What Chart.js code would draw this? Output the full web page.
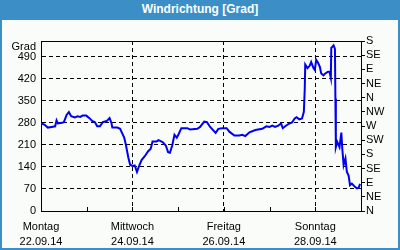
<!DOCTYPE html>
<html>
<head>
<meta charset="utf-8">
<script src="https://cdn.jsdelivr.net/npm/chart.js@4/dist/chart.umd.min.js"></script>
<style>
  body { margin: 0; background: #fff; }
  #frame {
    width: 400px; height: 250px; box-sizing: border-box;
    border: 2px solid #3b8fc6; background: #fafcfa;
  }
  #head {
    height: 18px; line-height: 18px; background: #3b8fc6; color: #fff;
    font: bold 12px "Liberation Sans", Arial, sans-serif; text-align: center;
  }
  canvas { display: block; }
</style>
</head>
<body>
<div id="frame">
  <div id="head">Windrichtung [Grad]</div>
  <canvas id="c" width="396" height="228"></canvas>
</div>
<script>
// time in days since Montag 22.09.14 00:00, wind direction in degrees
const days = [
  0, 0.08, 0.15, 0.23, 0.31, 0.34, 0.37, 0.46, 0.50, 0.56,
  0.61, 0.66, 0.74, 0.80, 0.86, 0.91, 0.99, 1.06, 1.12, 1.18,
  1.23, 1.29, 1.35, 1.44, 1.50, 1.54, 1.56, 1.67, 1.73, 1.78,
  1.82, 1.86, 1.91, 1.95, 2.00, 2.05, 2.10, 2.14, 2.20, 2.27,
  2.34, 2.40, 2.44, 2.53, 2.57, 2.66, 2.73, 2.78, 2.82, 2.87,
  2.92, 2.97, 3.01, 3.07, 3.20, 3.26, 3.42, 3.48, 3.57, 3.63,
  3.70, 3.82, 3.88, 3.96, 4.06, 4.12, 4.23, 4.34, 4.40, 4.47,
  4.56, 4.69, 4.84, 4.93, 5.00, 5.06, 5.12, 5.19, 5.25, 5.29,
  5.35, 5.42, 5.49, 5.55, 5.59, 5.65, 5.71, 5.75, 5.77, 5.78,
  5.83, 5.88, 5.91, 5.96, 5.99, 6.02, 6.06, 6.10, 6.13, 6.18,
  6.22, 6.27, 6.31, 6.34, 6.35, 6.40, 6.43, 6.44, 6.45, 6.48,
  6.53, 6.57, 6.59, 6.62, 6.66, 6.69, 6.73, 6.76, 6.80, 6.86,
  6.91, 6.95, 6.98
]
const degrees = [
  279, 274, 265, 267, 269, 288, 278, 280, 282, 305,
  314, 301, 297, 301, 299, 303, 303, 295, 286, 282,
  269, 269, 282, 286, 295, 280, 265, 265, 261, 246,
  233, 208, 170, 147, 143, 145, 124, 141, 162, 174,
  189, 198, 221, 221, 225, 219, 208, 187, 185, 208,
  242, 233, 244, 263, 263, 259, 261, 267, 284, 282,
  267, 248, 261, 263, 263, 252, 240, 240, 242, 238,
  250, 257, 261, 269, 267, 271, 267, 271, 278, 263,
  270, 277, 281, 294, 298, 291, 294, 315, 389, 465,
  454, 462, 473, 454, 448, 480, 471, 458, 437, 431,
  437, 442, 443, 423, 518, 526, 515, 357, 203, 220,
  203, 249, 199, 146, 167, 125, 112, 82, 87, 78,
  72, 74, 86
]

const labelDays = [0, 2, 4, 6]
const labelNames = ["Montag", "Mittwoch", "Freitag", "Sonntag"]
const labelDates = ["22.09.14", "24.09.14", "26.09.14", "28.09.14"]
const yTicks = [0, 70, 140, 210, 280, 350, 420, 490]
const compass = ["N", "NE", "E", "SE", "S", "SW", "W", "NW", "N", "NE", "E", "SE", "S"]

const font = { family: '"Liberation Sans", Arial, sans-serif', size: 11 }

// top frame line, small inner day ticks and the "Grad" caption
const frame = {
  id: "frame",
  afterDraw(chart) {
    const { ctx, chartArea: a, scales: { x } } = chart
    ctx.save()
    ctx.strokeStyle = "#000"
    ctx.lineWidth = 1
    ctx.beginPath()
    ctx.moveTo(a.left, a.top + 0.5)
    ctx.lineTo(a.right, a.top + 0.5)
    for (let d = 1; d < 7; d++) {
      const px = Math.round(x.getPixelForValue(d)) + 0.5
      ctx.moveTo(px, a.bottom)
      ctx.lineTo(px, a.bottom - 4)
    }
    ctx.stroke()
    ctx.fillStyle = "#000"
    ctx.font = '11px "Liberation Sans", Arial, sans-serif'
    ctx.textAlign = "right"
    ctx.textBaseline = "middle"
    ctx.fillText("Grad", a.left - 5, a.top + 6)
    ctx.restore()
  },
}

new Chart(document.getElementById("c"), {
  type: "line",
  data: {
    datasets: [
      {
        data: days.map((d, i) => ({ x: d, y: degrees[i] })),
        borderColor: "#0000f0",
        borderWidth: 2,
        pointRadius: 0,
        tension: 0,
        yAxisID: "y",
      },
    ],
  },
  options: {
    responsive: false,
    animation: false,
    layout: { padding: { top: 21 } },
    plugins: { legend: { display: false }, tooltip: { enabled: false } },
    scales: {
      x: {
        type: "linear",
        min: 0,
        max: 7,
        afterBuildTicks: (s) => {
          s.ticks = [0, 1, 2, 3, 4, 5, 6, 7].map((v) => ({ value: v }))
        },
        afterFit: (s) => { s.height = 37 },
        ticks: {
          autoSkip: false,
          maxRotation: 0,
          color: "#000",
          padding: 9,
          font: { ...font, lineHeight: 1.35 },
          callback: (v) => {
            const i = labelDays.indexOf(v)
            return i >= 0 ? [labelNames[i], labelDates[i]] : ""
          },
        },
        grid: {
          drawTicks: false,
          color: (c) =>
            c.tick && c.tick.value > 0 && labelDays.includes(c.tick.value) ? "#000" : "rgba(0,0,0,0)",
        },
        border: { color: "#000", dash: [4, 3] },
      },
      y: {
        position: "left",
        min: 0,
        max: 540,
        afterBuildTicks: (s) => {
          s.ticks = yTicks.map((v) => ({ value: v }))
        },
        afterFit: (s) => { s.width = 39 },
        ticks: { color: "#000", padding: 5, font: font },
        grid: { drawTicks: false, color: "#000" },
        border: { color: "#000", dash: [4, 3] },
      },
      y2: {
        position: "right",
        min: 0,
        max: 540,
        afterBuildTicks: (s) => {
          s.ticks = compass.map((c, i) => ({ value: i * 45 }))
        },
        afterFit: (s) => { s.width = 37 },
        ticks: {
          autoSkip: false,
          color: "#000",
          padding: 1,
          font: font,
          callback: (v) => compass[Math.round(v / 45)],
        },
        grid: { drawOnChartArea: false, tickLength: 4, color: "#000" },
        border: { color: "#000" },
      },
    },
  },
  plugins: [frame],
})
</script>
</body>
</html>
